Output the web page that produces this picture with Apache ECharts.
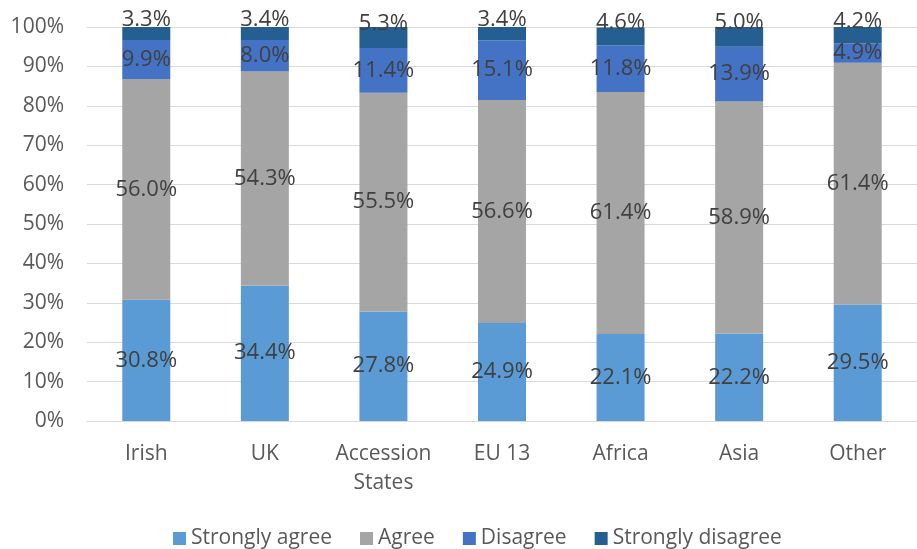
<!DOCTYPE html>
<html>
<head>
<meta charset="utf-8">
<script src="https://cdn.jsdelivr.net/npm/echarts@6/dist/echarts.min.js"></script>
<style>
  html, body { margin: 0; padding: 0; background: #fff; }
  #chart { width: 917px; height: 549px; }
</style>
</head>
<body>
<div id="chart"></div>
<script>
// data
var categories = ['Irish', 'UK', 'Accession\nStates', 'EU 13', 'Africa', 'Asia', 'Other'];
var stronglyAgree = [30.8, 34.4, 27.8, 24.9, 22.1, 22.2, 29.5];
var agree = [56.0, 54.3, 55.5, 56.6, 61.4, 58.9, 61.4];
var disagree = [9.9, 8.0, 11.4, 15.1, 11.8, 13.9, 4.9];
var stronglyDisagree = [3.3, 3.4, 5.3, 3.4, 4.6, 5.0, 4.2];

var font = '"Open Sans", "Liberation Sans", sans-serif';

function makeSeries(name, data, color, offset) {
  return {
    name: name,
    type: 'bar',
    stack: 'total',
    barWidth: 48,
    data: data,
    itemStyle: { color: color },
    label: {
      show: true,
      position: 'inside',
      offset: offset || [0, 0],
      formatter: function (p) { return p.value.toFixed(1) + '%'; },
      color: '#404040',
      fontSize: 22,
      fontFamily: font
    }
  };
}

var myChart = echarts.init(document.getElementById('chart'));
var option = {
  animation: false,
  grid: { left: 87, right: -8, top: 27, bottom: 128 },
  legend: {
    top: 523,
    left: 168,
    itemWidth: 13,
    itemHeight: 13,
    itemGap: 28,
    icon: 'rect',
    textStyle: { color: '#595959', fontSize: 21, fontFamily: font },
    data: ['Strongly agree', 'Agree', 'Disagree', 'Strongly disagree']
  },
  xAxis: {
    type: 'category',
    data: categories,
    axisTick: { show: false },
    axisLine: { lineStyle: { color: '#D9D9D9', width: 1 } },
    axisLabel: { interval: 0, color: '#595959', fontSize: 21, fontFamily: font, margin: 19, lineHeight: 29 }
  },
  yAxis: {
    type: 'value',
    min: 0,
    max: 100,
    interval: 10,
    axisLine: { show: false },
    axisTick: { show: false },
    splitLine: { lineStyle: { color: '#D9D9D9', width: 1 } },
    axisLabel: {
      color: '#595959', fontSize: 21, fontFamily: font, margin: 23,
      formatter: function (v) { return v + '%'; }
    }
  },
  series: [
    makeSeries('Strongly agree', stronglyAgree, '#5B9BD5'),
    makeSeries('Agree', agree, '#A5A5A5'),
    makeSeries('Disagree', disagree, '#4472C4'),
    makeSeries('Strongly disagree', stronglyDisagree, '#255E91', [0, -14])
  ]
};
myChart.setOption(option);
</script>
</body>
</html>
